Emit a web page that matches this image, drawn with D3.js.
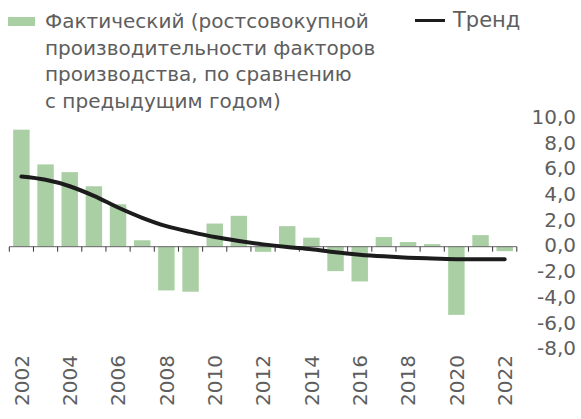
<!DOCTYPE html>
<html>
<head>
<meta charset="utf-8">
<script src="https://cdn.jsdelivr.net/npm/d3@7"></script>
<style>
  html, body { margin: 0; padding: 0; background: #fff; }
  svg text { font-family: "DejaVu Sans", sans-serif; fill: #5e5e5e; }
</style>
</head>
<body>
<svg id="chart" width="581" height="419"></svg>
<script>
// ── Data ──────────────────────────────────────────────────────────────────────
const years  = d3.range(2002, 2023);
const actual = [9.1, 6.4, 5.8, 4.7, 3.3, 0.5, -3.4, -3.5, 1.8, 2.4, -0.4,
                1.6, 0.7, -1.9, -2.7, 0.75, 0.36, 0.2, -5.3, 0.9, -0.35];
const trend  = [5.45, 5.2, 4.7, 3.95, 3.05, 2.25, 1.6, 1.15, 0.75, 0.44, 0.18,
                -0.03, -0.2, -0.44, -0.62, -0.75, -0.85, -0.92, -0.97, -0.98, -0.98];
const yTicks = [10, 8, 6, 4, 2, 0, -2, -4, -6, -8];
const legendActual = ['Фактический (ростсовокупной', 'производительности факторов',
                      'производства, по сравнению', 'с предыдущим годом)'];
const legendTrend  = 'Тренд';

// ── Config ────────────────────────────────────────────────────────────────────
const BAR_COLOR  = '#abcfa5';
const LINE_COLOR = '#1c1c1c';
const FONT_SIZE  = 20;

const svg = d3.select('#chart');

const x = d3.scaleBand()
  .domain(years)
  .range([9.3, 516.8])
  .paddingInner(0.32)
  .paddingOuter(0.16);

const y = d3.scaleLinear()
  .domain([-8, 10])
  .range([246.7 + 8 * 12.86, 246.7 - 10 * 12.86]);

// ── Bars ──────────────────────────────────────────────────────────────────────
svg.append('g')
  .selectAll('rect')
  .data(years.map((yr, i) => ({ yr, v: actual[i] })))
  .join('rect')
  .attr('x', d => x(d.yr))
  .attr('width', x.bandwidth())
  .attr('y', d => y(Math.max(0, d.v)))
  .attr('height', d => Math.abs(y(d.v) - y(0)))
  .attr('fill', BAR_COLOR);

// ── Zero axis with ticks at band edges ────────────────────────────────────────
const step  = x.step();
const x0    = x.range()[0];
const edges = d3.range(years.length + 1).map(i => x0 + i * step);

const axis = svg.append('g').attr('stroke', '#666').attr('stroke-width', 1);
axis.append('line')
  .attr('x1', edges[0]).attr('x2', edges[edges.length - 1])
  .attr('y1', y(0)).attr('y2', y(0));
axis.selectAll('.tick')
  .data(edges)
  .join('line')
  .attr('class', 'tick')
  .attr('stroke', '#333')
  .attr('x1', d => d).attr('x2', d => d)
  .attr('y1', y(0)).attr('y2', y(0) + 5);

// ── Trend line ────────────────────────────────────────────────────────────────
const line = d3.line()
  .x((d, i) => x(years[i]) + x.bandwidth() / 2)
  .y(d => y(d))
  .curve(d3.curveCatmullRom.alpha(0.5));

svg.append('path')
  .datum(trend)
  .attr('d', line)
  .attr('fill', 'none')
  .attr('stroke', LINE_COLOR)
  .attr('stroke-width', 4)
  .attr('stroke-linecap', 'round');

// ── Right y labels ────────────────────────────────────────────────────────────
const fmt = v => d3.format('.1f')(v).replace('.', ',').replace('−', '-');
svg.append('g')
  .selectAll('text')
  .data(yTicks)
  .join('text')
  .attr('x', 576)
  .attr('y', d => y(d) - 1.5)
  .attr('dy', '0.36em')
  .attr('text-anchor', 'end')
  .attr('font-size', FONT_SIZE)
  .text(fmt);

// ── X labels (every other year, rotated) ──────────────────────────────────────
svg.append('g')
  .selectAll('text')
  .data(years.filter(yr => yr % 2 === 0))
  .join('text')
  .attr('transform', d => `translate(${x(d) + x.bandwidth() / 2},355) rotate(-90)`)
  .attr('dy', '0.36em')
  .attr('text-anchor', 'end')
  .attr('font-size', FONT_SIZE)
  .text(d => d);

// ── Legend ────────────────────────────────────────────────────────────────────
svg.append('rect')
  .attr('x', 8).attr('y', 17).attr('width', 27).attr('height', 9)
  .attr('fill', BAR_COLOR);

svg.append('g')
  .selectAll('text')
  .data(legendActual)
  .join('text')
  .attr('x', 45)
  .attr('y', (d, i) => 28.3 + i * 26.5)
  .attr('font-size', FONT_SIZE)
  .text(d => d);

svg.append('line')
  .attr('x1', 415).attr('x2', 445)
  .attr('y1', 20.5).attr('y2', 20.5)
  .attr('stroke', LINE_COLOR)
  .attr('stroke-width', 3);

svg.append('text')
  .attr('x', 453).attr('y', 27)
  .attr('font-size', 21)
  .text(legendTrend);
</script>
</body>
</html>
